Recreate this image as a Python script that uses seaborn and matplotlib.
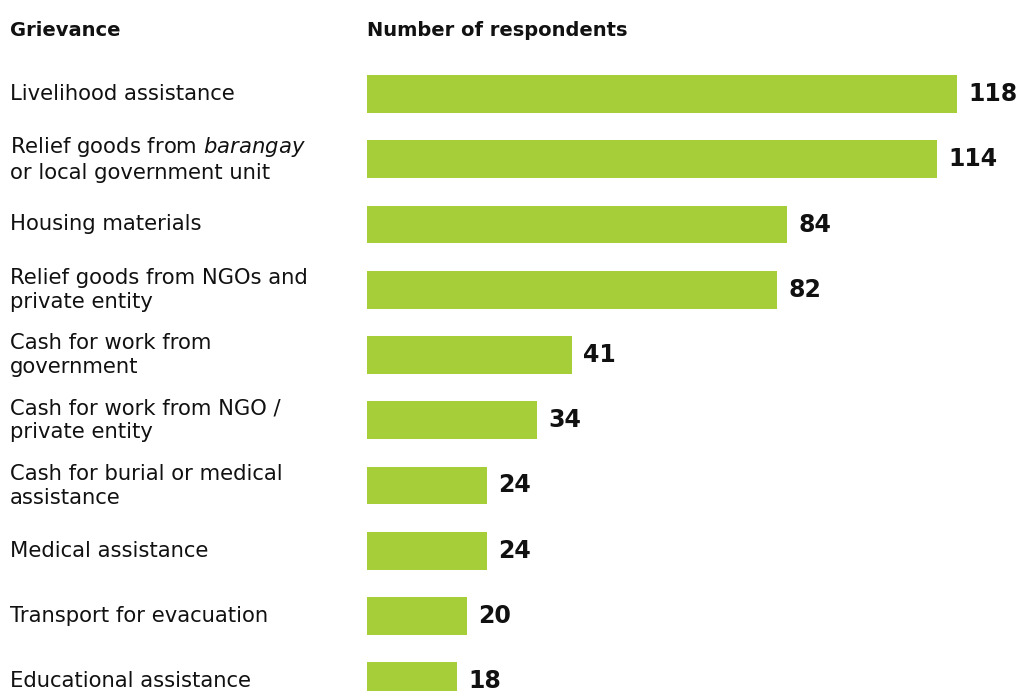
import matplotlib
matplotlib.use("Agg")
import matplotlib.pyplot as plt
import seaborn as sns
import pandas as pd

categories = [
    "Livelihood assistance",
    "Relief goods from barangay or local government unit",
    "Housing materials",
    "Relief goods from NGOs and private entity",
    "Cash for work from government",
    "Cash for work from NGO / private entity",
    "Cash for burial or medical assistance",
    "Medical assistance",
    "Transport for evacuation",
    "Educational assistance",
]
display_labels = [
    "Livelihood assistance",
    "Relief goods from $\\it{barangay}$\nor local government unit",
    "Housing materials",
    "Relief goods from NGOs and\nprivate entity",
    "Cash for work from\ngovernment",
    "Cash for work from NGO /\nprivate entity",
    "Cash for burial or medical\nassistance",
    "Medical assistance",
    "Transport for evacuation",
    "Educational assistance",
]
values = [118, 114, 84, 82, 41, 34, 24, 24, 20, 18]

sns.set_theme(style="white")
plt.rcParams["font.family"] = ["DejaVu Sans"]
plt.rcParams["mathtext.fontset"] = "dejavusans"

W, H = 1019, 691
fig = plt.figure(figsize=(W / 100, H / 100), dpi=100)
fig.patch.set_facecolor("white")
ax = fig.add_axes([367 / W, 0, 652 / W, 1])

df = pd.DataFrame({"cat": categories, "val": values})
sns.barplot(data=df, x="val", y="cat", orient="h", color="#a6ce39",
            saturation=1, width=0.58, linewidth=0, ax=ax)

ax.set_xlim(0, 652 / 5)
ax.set_ylim((H - 94) / 65.25, -94 / 65.25)
ax.set_xticks([])
ax.set_yticks([])
ax.set_xlabel("")
ax.set_ylabel("")
for s in ax.spines.values():
    s.set_visible(False)

ax.bar_label(ax.containers[0], padding=8, fontsize=17, fontweight="bold",
             color="#111111")

trans = ax.get_yaxis_transform()
for i, lab in enumerate(display_labels):
    ax.text((10 - 367) / 652, i, lab, transform=trans, ha="left", va="center",
            fontsize=15.2, color="#111111", linespacing=1.25, clip_on=False)

fig.text(10 / W, 1 - 30 / H, "Grievance", ha="left", va="center",
         fontsize=14, fontweight="bold", color="#111111")
fig.text(367 / W, 1 - 30 / H, "Number of respondents", ha="left", va="center",
         fontsize=14, fontweight="bold", color="#111111")

fig.savefig("out.png", dpi=100, facecolor="white")
